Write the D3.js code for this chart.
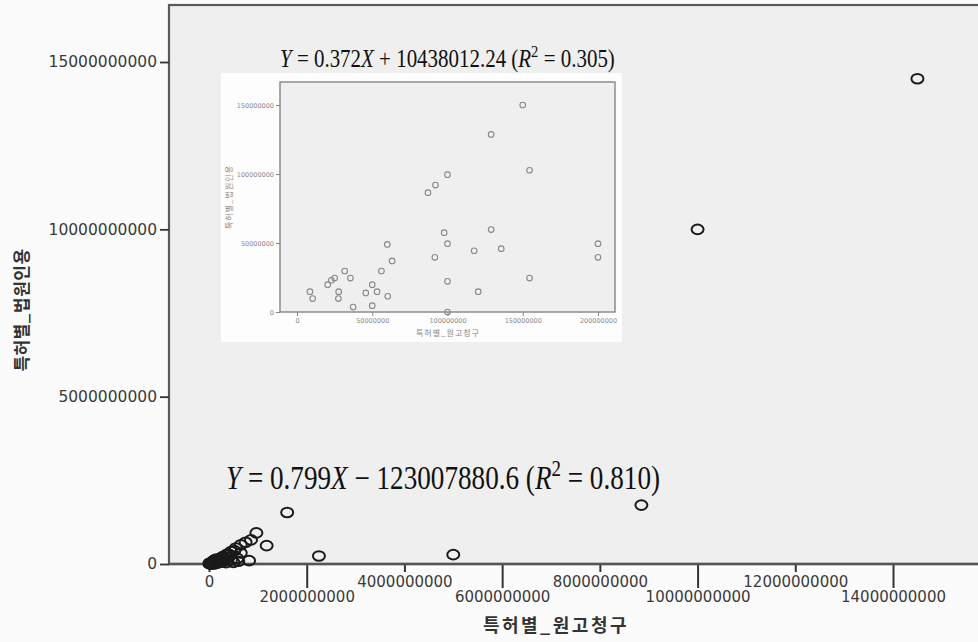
<!DOCTYPE html>
<html>
<head>
<meta charset="utf-8">
<script src="https://cdn.jsdelivr.net/npm/d3@7"></script>
<style>
  body { margin: 0; background: #fbfbfb; }
  svg { display: block; }
</style>
</head>
<body>
<script>
// main scatter: patent-level claim (x) vs court award (y), larger cases
const bigX = [14.5e9, 10.0e9, 8.85e9, 5.0e9, 2.25e9, 1.6e9, 1.18e9, 0.97e9, 0.86e9, 0.82e9,
    0.75e9, 0.65e9, 0.58e9, 0.55e9, 0.65e9, 0.45e9, 0.45e9, 0.35e9, 0.30e9, 0.25e9, 0.38e9, 0.52e9,
    0.30e9, 0.40e9, 0.50e9, 0.60e9, 0.22e9, 0.35e9, 0.28e9, 0.42e9]
const bigY = [14.5e9, 10.0e9, 1.76e9, 0.28e9, 0.24e9, 1.54e9, 0.55e9, 0.93e9, 0.72e9, 0.10e9,
    0.65e9, 0.57e9, 0.17e9, 0.48e9, 0.33e9, 0.37e9, 0.12e9, 0.27e9, 0.08e9, 0.18e9, 0.30e9, 0.40e9,
    0.15e9, 0.20e9, 0.05e9, 0.08e9, 0.05e9, 0.04e9, 0.22e9, 0.28e9]

// inset: small cases (also part of the main cloud at the origin)
const insetX = [150e6, 129e6, 154.5e6, 100e6, 92e6, 87e6, 97.8e6, 129e6, 100e6, 60e6,
    117.7e6, 135.7e6, 200e6, 200e6, 91.6e6, 63.2e6, 56.1e6, 31.7e6, 35.5e6, 25e6,
    22.8e6, 20.4e6, 154.5e6, 100e6, 50e6, 8.6e6, 10.4e6, 27.7e6, 27.5e6, 45.7e6,
    53.2e6, 60.3e6, 120.4e6, 37.3e6, 50e6, 100e6]
const insetY = [150e6, 128.7e6, 102.7e6, 99.5e6, 92e6, 86.5e6, 57.5e6, 59.7e6, 49.5e6, 49e6,
    44.4e6, 45.9e6, 49.5e6, 39.6e6, 39.6e6, 37e6, 29.7e6, 29.7e6, 24.6e6, 24.6e6,
    23e6, 19.8e6, 24.6e6, 22.2e6, 19.8e6, 14.7e6, 9.7e6, 14.7e6, 9.7e6, 13.8e6,
    14.7e6, 11.4e6, 14.7e6, 3.6e6, 4.6e6, 0]

const xTicks = [0, 2e9, 4e9, 6e9, 8e9, 10e9, 12e9, 14e9]
const yTicks = [0, 5e9, 10e9, 15e9]
const insetXTicks = [0, 50e6, 100e6, 150e6, 200e6]
const insetYTicks = [0, 50e6, 100e6, 150e6]

const xTitle = '특허별_원고청구'
const yTitle = '특허별_법원인용'
// equation pieces: [text, italic?, superscript?]
const mainEq = [['Y', 1], [' = 0.799'], ['X', 1], [' − 123007880.6 ('], ['R', 1], ['2', 0, 1], [' = 0.810)']]
const insetEq = [['Y', 1], [' = 0.372'], ['X', 1], [' + 10438012.24 ('], ['R', 1], ['2', 0, 1], [' = 0.305)']]

const m = { width: 978, height: 642 }
const frame = { left: 169, top: 5, right: 992, bottom: 564 }

const svg = d3.select('body').append('svg')
    .attr('width', m.width)
    .attr('height', m.height)

svg.append('rect')
    .attr('width', m.width).attr('height', m.height)
    .attr('fill', '#fbfbfb')

// plot area
svg.append('rect')
    .attr('x', frame.left).attr('y', frame.top)
    .attr('width', frame.right - frame.left)
    .attr('height', frame.bottom - frame.top)
    .attr('fill', '#efefef')
    .attr('stroke', '#5a5a5a')
    .attr('stroke-width', 2.2)

const x = d3.scaleLinear().domain([0, 14e9]).range([209, 893])
const y = d3.scaleLinear().domain([0, 15e9]).range([564, 62])

// y axis
const yAxis = svg.append('g')
    .attr('transform', `translate(${frame.left},0)`)
    .call(d3.axisLeft(y).tickValues(yTicks).tickFormat(d3.format('d')).tickSize(9).tickPadding(3))
yAxis.select('.domain').remove()
yAxis.selectAll('line').attr('stroke', '#333').attr('stroke-width', 1.8)
yAxis.selectAll('text')
    .attr('font-family', 'DejaVu Sans')
    .attr('font-size', 15.5)
    .attr('fill', '#3a3a3a')

// x axis with staggered labels
const xAxis = svg.append('g')
    .attr('transform', `translate(0,${frame.bottom})`)
    .call(d3.axisBottom(x).tickValues(xTicks).tickFormat(d3.format('d')).tickSize(8))
xAxis.select('.domain').remove()
xAxis.selectAll('.tick').each(function (d, i) {
    const low = i % 2 == 1
    d3.select(this).select('line')
        .attr('y2', low ? 24 : 8)
        .attr('stroke', '#333').attr('stroke-width', 2)
    d3.select(this).select('text')
        .attr('y', low ? 27 : 12)
        .attr('font-family', 'DejaVu Sans')
        .attr('font-size', 15)
        .attr('fill', '#3a3a3a')
})

// axis line on top of frame bottom
svg.append('line')
    .attr('x1', frame.left).attr('x2', m.width)
    .attr('y1', frame.bottom).attr('y2', frame.bottom)
    .attr('stroke', '#555').attr('stroke-width', 2.4)

// axis titles
svg.append('text')
    .attr('x', 556).attr('y', 632)
    .attr('text-anchor', 'middle')
    .attr('font-family', 'Noto Sans CJK KR')
    .attr('font-weight', 'bold')
    .attr('font-size', 18)
    .attr('letter-spacing', 2.5)
    .attr('fill', '#333')
    .text(xTitle)

svg.append('text')
    .attr('transform', 'translate(28,310) rotate(-90)')
    .attr('text-anchor', 'middle')
    .attr('font-family', 'Noto Sans CJK KR')
    .attr('font-weight', 'bold')
    .attr('font-size', 17)
    .attr('letter-spacing', 0.5)
    .attr('fill', '#333')
    .text(yTitle)

// main points
const mainPts = bigX.map((v, i) => [v, bigY[i]])
    .concat(insetX.map((v, i) => [v, insetY[i]]))
svg.append('g').selectAll('ellipse')
    .data(mainPts)
    .enter()
    .append('ellipse')
    .attr('cx', d => x(d[0]))
    .attr('cy', d => y(d[1]))
    .attr('rx', 6).attr('ry', 4.8)
    .attr('fill', 'none')
    .attr('stroke', '#1a1a1a')
    .attr('stroke-width', 2)

// ---- inset chart ----
const ins = svg.append('g')
ins.append('rect')
    .attr('x', 221).attr('y', 73).attr('width', 401).attr('height', 269)
    .attr('fill', '#fdfdfd')
ins.append('rect')
    .attr('x', 280).attr('y', 82).attr('width', 335).attr('height', 230)
    .attr('fill', '#efefef')
    .attr('stroke', '#8c8c8c').attr('stroke-width', 1.5)

const ix = d3.scaleLinear().domain([0, 200e6]).range([297, 598])
const iy = d3.scaleLinear().domain([0, 150e6]).range([312, 105])

const iyAxis = ins.append('g')
    .attr('transform', 'translate(280,0)')
    .call(d3.axisLeft(iy).tickValues(insetYTicks).tickFormat(d3.format('d')).tickSize(4).tickPadding(2))
const ixAxis = ins.append('g')
    .attr('transform', 'translate(0,312)')
    .call(d3.axisBottom(ix).tickValues(insetXTicks).tickFormat(d3.format('d')).tickSize(4).tickPadding(2))
ins.selectAll('.domain').remove()
ins.selectAll('.tick line').attr('stroke', '#888')
ins.selectAll('.tick text')
    .attr('font-family', 'DejaVu Sans')
    .attr('font-size', 6.5)
    .attr('fill', '#8a8a8a')

ins.append('text')
    .attr('x', 448).attr('y', 336)
    .attr('text-anchor', 'middle')
    .attr('font-family', 'Noto Sans CJK KR')
    .attr('font-size', 8)
    .attr('letter-spacing', 1)
    .attr('fill', '#888')
    .text(xTitle)
ins.append('text')
    .attr('transform', 'translate(232,197) rotate(-90)')
    .attr('text-anchor', 'middle')
    .attr('font-family', 'Noto Sans CJK KR')
    .attr('font-size', 8)
    .attr('letter-spacing', 1)
    .attr('fill', '#888')
    .text(yTitle)

ins.append('g').selectAll('circle')
    .data(insetX.map((v, i) => [v, insetY[i]]))
    .enter()
    .append('circle')
    .attr('cx', d => ix(d[0]))
    .attr('cy', d => iy(d[1]))
    .attr('r', 2.8)
    .attr('fill', 'none')
    .attr('stroke', '#888')
    .attr('stroke-width', 1.1)

// ---- regression equations ----
// Cambria Math is tall and narrow: fit width, then stretch vertically
function equation(parts, px, py, width, stretch) {
    const t = svg.append('text')
        .attr('transform', `translate(${px},${py}) scale(1,${stretch})`)
        .attr('font-family', 'Liberation Serif')
        .attr('font-size', 28)
        .attr('fill', '#111')
    parts.forEach((p, k) => {
        const s = t.append('tspan').text(p[0])
        if (p[1]) s.attr('font-style', 'italic')
        if (p[2]) s.attr('font-size', '0.7em').attr('dy', -11)
        else if (k > 0 && parts[k - 1][2]) s.attr('dy', 11)
    })
    const w = t.node().getBBox().width
    const fs = 28 * width / w
    t.attr('font-size', fs)
    t.selectAll('tspan').each(function () {
        const s = d3.select(this)
        const dy = +s.attr('dy')
        if (dy) s.attr('dy', dy * fs / 28)
    })
}
equation(mainEq, 226, 489, 434, 1.22)
equation(insetEq, 280, 67, 335, 1.18)
</script>
</body>
</html>
